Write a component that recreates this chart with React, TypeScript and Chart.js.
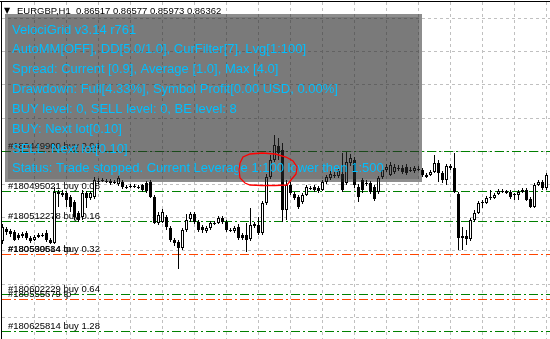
import React, { useEffect, useRef } from 'react';
import { Chart, registerables } from 'chart.js';

Chart.register(...registerables);

// ---- chart title (MT4 header) ----
const titleText = 'EURGBP,H1  0.86517 0.86577 0.85973 0.86362';

// ---- H1 candles, oldest -> newest ----
const opens = [
  0.86277, 0.86313, 0.86307, 0.86304, 0.86295, 0.86292, 0.86301, 0.86286, 0.86280, 0.86289,
  0.86295, 0.86301, 0.86280, 0.86271, 0.86418, 0.86415, 0.86421, 0.86409, 0.86394, 0.86361,
  0.86349, 0.86421, 0.86406, 0.86409, 0.86457, 0.86460, 0.86457, 0.86451, 0.86454, 0.86448,
  0.86454, 0.86439, 0.86442, 0.86442, 0.86439, 0.86445, 0.86451, 0.86454, 0.86409, 0.86331,
  0.86334, 0.86349, 0.86316, 0.86280, 0.86274, 0.86256, 0.86310, 0.86343, 0.86358, 0.86334,
  0.86319, 0.86307, 0.86316, 0.86331, 0.86331, 0.86346, 0.86334, 0.86310, 0.86307, 0.86319,
  0.86295, 0.86295, 0.86283, 0.86322, 0.86325, 0.86301, 0.86391, 0.86469, 0.86520, 0.86562,
  0.86550, 0.86370, 0.86445, 0.86418, 0.86409, 0.86394, 0.86415, 0.86436, 0.86439, 0.86436,
  0.86430, 0.86454, 0.86466, 0.86475, 0.86472, 0.86478, 0.86451, 0.86511, 0.86520, 0.86439,
  0.86460, 0.86451, 0.86451, 0.86439, 0.86424, 0.86469, 0.86490, 0.86475, 0.86484, 0.86496,
  0.86496, 0.86499, 0.86490, 0.86487, 0.86493, 0.86490, 0.86469, 0.86475, 0.86484, 0.86511,
  0.86481, 0.86460, 0.86502, 0.86496, 0.86418, 0.86286, 0.86292, 0.86283, 0.86340, 0.86361,
  0.86394, 0.86391, 0.86409, 0.86406, 0.86418, 0.86427, 0.86421, 0.86424, 0.86418, 0.86415,
  0.86424, 0.86430, 0.86403, 0.86379, 0.86445, 0.86454, 0.86436,
];
const highs = [
  0.86328, 0.86319, 0.86313, 0.86310, 0.86301, 0.86304, 0.86307, 0.86292, 0.86295, 0.86301,
  0.86301, 0.86310, 0.86286, 0.86439, 0.86430, 0.86430, 0.86427, 0.86415, 0.86400, 0.86367,
  0.86430, 0.86427, 0.86427, 0.86469, 0.86466, 0.86466, 0.86463, 0.86463, 0.86460, 0.86472,
  0.86460, 0.86445, 0.86448, 0.86448, 0.86445, 0.86448, 0.86457, 0.86460, 0.86415, 0.86364,
  0.86373, 0.86355, 0.86322, 0.86286, 0.86280, 0.86316, 0.86358, 0.86364, 0.86364, 0.86340,
  0.86325, 0.86322, 0.86337, 0.86337, 0.86352, 0.86352, 0.86340, 0.86316, 0.86322, 0.86328,
  0.86301, 0.86331, 0.86376, 0.86334, 0.86349, 0.86397, 0.86478, 0.86535, 0.86595, 0.86586,
  0.86571, 0.86460, 0.86454, 0.86424, 0.86415, 0.86421, 0.86445, 0.86442, 0.86445, 0.86442,
  0.86460, 0.86475, 0.86487, 0.86484, 0.86496, 0.86541, 0.86544, 0.86538, 0.86529, 0.86448,
  0.86466, 0.86460, 0.86457, 0.86445, 0.86472, 0.86496, 0.86508, 0.86514, 0.86508, 0.86505,
  0.86505, 0.86508, 0.86499, 0.86502, 0.86502, 0.86496, 0.86481, 0.86490, 0.86535, 0.86520,
  0.86487, 0.86508, 0.86508, 0.86541, 0.86424, 0.86319, 0.86310, 0.86346, 0.86370, 0.86397,
  0.86400, 0.86412, 0.86430, 0.86421, 0.86433, 0.86433, 0.86430, 0.86430, 0.86421, 0.86430,
  0.86436, 0.86436, 0.86409, 0.86451, 0.86460, 0.86460, 0.86481,
];
const lows = [
  0.86268, 0.86295, 0.86289, 0.86277, 0.86280, 0.86286, 0.86280, 0.86271, 0.86277, 0.86286,
  0.86289, 0.86274, 0.86268, 0.86268, 0.86379, 0.86409, 0.86379, 0.86364, 0.86340, 0.86334,
  0.86340, 0.86376, 0.86400, 0.86403, 0.86448, 0.86454, 0.86451, 0.86445, 0.86448, 0.86442,
  0.86433, 0.86433, 0.86436, 0.86436, 0.86433, 0.86424, 0.86421, 0.86406, 0.86328, 0.86325,
  0.86331, 0.86310, 0.86274, 0.86262, 0.86193, 0.86250, 0.86304, 0.86334, 0.86328, 0.86304,
  0.86301, 0.86301, 0.86310, 0.86325, 0.86328, 0.86328, 0.86304, 0.86304, 0.86301, 0.86280,
  0.86280, 0.86244, 0.86277, 0.86316, 0.86295, 0.86295, 0.86385, 0.86463, 0.86514, 0.86520,
  0.86334, 0.86340, 0.86415, 0.86400, 0.86373, 0.86388, 0.86412, 0.86430, 0.86424, 0.86421,
  0.86427, 0.86448, 0.86460, 0.86466, 0.86466, 0.86424, 0.86445, 0.86502, 0.86436, 0.86394,
  0.86421, 0.86442, 0.86418, 0.86397, 0.86418, 0.86463, 0.86484, 0.86472, 0.86478, 0.86487,
  0.86478, 0.86475, 0.86484, 0.86481, 0.86487, 0.86469, 0.86466, 0.86472, 0.86481, 0.86454,
  0.86451, 0.86445, 0.86490, 0.86421, 0.86250, 0.86250, 0.86265, 0.86277, 0.86334, 0.86358,
  0.86376, 0.86388, 0.86400, 0.86403, 0.86415, 0.86421, 0.86418, 0.86403, 0.86400, 0.86400,
  0.86421, 0.86397, 0.86376, 0.86376, 0.86442, 0.86430, 0.86430,
];
const closes = [
  0.86319, 0.86304, 0.86298, 0.86280, 0.86286, 0.86298, 0.86286, 0.86277, 0.86289, 0.86295,
  0.86292, 0.86280, 0.86271, 0.86424, 0.86424, 0.86421, 0.86400, 0.86379, 0.86349, 0.86340,
  0.86421, 0.86406, 0.86421, 0.86460, 0.86454, 0.86457, 0.86454, 0.86457, 0.86451, 0.86466,
  0.86439, 0.86436, 0.86439, 0.86439, 0.86436, 0.86430, 0.86427, 0.86409, 0.86331, 0.86355,
  0.86364, 0.86319, 0.86280, 0.86271, 0.86256, 0.86310, 0.86340, 0.86358, 0.86334, 0.86310,
  0.86310, 0.86316, 0.86331, 0.86328, 0.86346, 0.86334, 0.86310, 0.86307, 0.86316, 0.86286,
  0.86286, 0.86280, 0.86325, 0.86328, 0.86301, 0.86391, 0.86469, 0.86520, 0.86565, 0.86541,
  0.86370, 0.86445, 0.86421, 0.86406, 0.86379, 0.86415, 0.86439, 0.86433, 0.86430, 0.86427,
  0.86454, 0.86469, 0.86478, 0.86472, 0.86487, 0.86430, 0.86514, 0.86526, 0.86445, 0.86409,
  0.86430, 0.86448, 0.86424, 0.86403, 0.86466, 0.86490, 0.86499, 0.86505, 0.86499, 0.86493,
  0.86484, 0.86481, 0.86487, 0.86496, 0.86490, 0.86475, 0.86475, 0.86484, 0.86511, 0.86481,
  0.86460, 0.86502, 0.86496, 0.86424, 0.86286, 0.86292, 0.86283, 0.86340, 0.86361, 0.86391,
  0.86391, 0.86406, 0.86406, 0.86415, 0.86427, 0.86424, 0.86427, 0.86409, 0.86415, 0.86424,
  0.86430, 0.86400, 0.86379, 0.86445, 0.86454, 0.86436, 0.86475,
];

// ---- price window and grid ----
const priceMax = 0.86994;
const priceMin = 0.85983;
const gridPrices = [0.86946, 0.86846, 0.86747, 0.86647, 0.86548, 0.86448, 0.86348, 0.86249, 0.86149, 0.8605];
const gridEveryBars = 8;

// ---- order / tp lines ----
const orderLinePrices = [0.86547, 0.86427, 0.86336, 0.86237, 0.86237, 0.86117, 0.86103, 0.86006];
const orderLineColors = ['#008000', '#008000', '#008000', '#008000', '#ff4500', '#008000', '#ff4500', '#008000'];
const orderLabels = [
  '#180449900 buy 0.04',
  '#180495021 buy 0.08',
  '#180512278 buy 0.16',
  '#180539584 buy 0.32',
  '#180590614 tp',
  '#180602229 buy 0.64',
  '#180555679 tp',
  '#180625814 buy 1.28',
];

// ---- EA info panel ----
const panelLines = [
  'VelociGrid v3.14 r761',
  'AutoMM[OFF], DD[5.0/1.0], CurFilter[7], Lvg[1:100]',
  'Spread: Current [0.9], Average [1.0], Max [4.0]',
  'Drawdown: Full[4.33%], Symbol Profit[0.00 USD, 0.00%]',
  'BUY level: 0, SELL level: 0, BE level: 8',
  'BUY: Next lot[0.10]',
  'SELL: Next lot[0.10]',
  'Status: Trade stopped. Current Leverage 1:100 lower then 1:500',
];

const LABEL_FONT = '9.5px "Liberation Sans", Arial, sans-serif';

const decorPlugin = {
  id: 'mt4decor',
  beforeDraw(chart: any) {
    const { ctx, width, height } = chart;
    ctx.save();
    ctx.fillStyle = '#ffffff';
    ctx.fillRect(0, 0, width, height);
    ctx.restore();
  },
  beforeDatasetsDraw(chart: any) {
    const { ctx, width, height } = chart;
    const xs = chart.scales.x;
    const ys = chart.scales.y;
    ctx.save();
    ctx.lineWidth = 1;
    // grid
    ctx.strokeStyle = '#c0c0c0';
    ctx.setLineDash([3, 3]);
    for (let i = gridEveryBars; i < opens.length; i += gridEveryBars) {
      const px = Math.round(xs.getPixelForValue(i) - 0.5) + 0.5;
      ctx.beginPath();
      ctx.moveTo(px, 2);
      ctx.lineTo(px, height);
      ctx.stroke();
    }
    gridPrices.forEach((p) => {
      const py = Math.round(ys.getPixelForValue(p)) + 0.5;
      ctx.beginPath();
      ctx.moveTo(2, py);
      ctx.lineTo(width, py);
      ctx.stroke();
    });
    // order lines
    ctx.setLineDash([9, 3, 2, 3]);
    orderLinePrices.forEach((p, k) => {
      const py = Math.round(ys.getPixelForValue(p)) + 0.5;
      ctx.strokeStyle = orderLineColors[k];
      ctx.beginPath();
      ctx.moveTo(2, py);
      ctx.lineTo(width, py);
      ctx.stroke();
    });
    ctx.setLineDash([]);
    ctx.font = LABEL_FONT;
    ctx.fillStyle = '#000000';
    ctx.textBaseline = 'alphabetic';
    orderLabels.forEach((t, k) => {
      const py = Math.round(ys.getPixelForValue(orderLinePrices[k]));
      ctx.fillText(t, 8, py - 2);
    });
    ctx.restore();
  },
  afterDatasetsDraw(chart: any) {
    const { ctx, width, height } = chart;
    ctx.save();
    // panel
    ctx.fillStyle = 'rgba(40,40,40,0.53)';
    ctx.fillRect(5, 14, 417, 168);
    ctx.fillStyle = 'rgba(40,40,40,0.19)';
    ctx.fillRect(8, 17, 411, 162);
    ctx.font = '13px "Liberation Sans", Arial, sans-serif';
    ctx.fillStyle = '#00bfff';
    ctx.textBaseline = 'alphabetic';
    panelLines.forEach((t, k) => ctx.fillText(t, 12, 33.5 + k * 19.85));
    // hand-drawn red circle
    const pts: [number, number][] = [
      [240, 163], [243, 157], [250, 154], [262, 153], [275, 154], [286, 157], [293, 161],
      [297, 167], [296, 174], [291, 180], [287, 185], [275, 185.5], [262, 185.5], [250, 185],
      [245, 183], [240, 178], [239, 170], [240, 163],
    ];
    ctx.strokeStyle = '#ff0000';
    ctx.lineWidth = 1.3;
    ctx.beginPath();
    pts.forEach(([px, py], k) => (k === 0 ? ctx.moveTo(px, py) : ctx.lineTo(px, py)));
    ctx.stroke();
    // title
    ctx.fillStyle = '#000000';
    ctx.font = '8px "DejaVu Sans", sans-serif';
    ctx.fillText('▼', 4, 13);
    ctx.font = LABEL_FONT;
    ctx.fillText(titleText, 17, 13.5);
    // frame
    ctx.fillRect(0, 1, width, 1);
    ctx.fillRect(1, 1, 1, height - 1);
    ctx.restore();
  },
};

export default function App() {
  const ref = useRef<HTMLCanvasElement>(null);
  useEffect(() => {
    if (!ref.current) return;
    const chart = new Chart(ref.current, {
      type: 'bar',
      data: {
        labels: opens.map((_, i) => String(i)),
        datasets: [
          {
            label: 'body',
            data: opens.map((o, i) => [o, closes[i]]) as any,
            backgroundColor: opens.map((o, i) => (closes[i] > o ? '#ffffff' : '#000000')),
            borderColor: '#000000',
            borderWidth: 1,
            borderSkipped: false,
            barThickness: 3,
            minBarLength: 1,
            inflateAmount: 0,
            grouped: false,
            order: 0,
          } as any,
          {
            label: 'wick',
            data: lows.map((l, i) => [l, highs[i]]) as any,
            backgroundColor: '#000000',
            borderWidth: 0,
            barThickness: 1,
            inflateAmount: 0,
            grouped: false,
            order: 1,
          } as any,
        ],
      },
      options: {
        responsive: false,
        animation: false,
        events: [],
        layout: { padding: { left: 0.5, right: 1.5, top: 2, bottom: 0 } },
        plugins: { legend: { display: false }, tooltip: { enabled: false } },
        scales: {
          x: { display: false, offset: true, grid: { display: false } },
          y: { display: false, min: priceMin, max: priceMax, grid: { display: false } },
        },
      } as any,
      plugins: [decorPlugin],
    });
    return () => chart.destroy();
  }, []);
  return (
    <div style={{ position: 'absolute', left: 0, top: 0, width: 550, height: 339, background: '#fff' }}>
      <canvas ref={ref} width={550} height={339} style={{ display: 'block' }} />
    </div>
  );
}
